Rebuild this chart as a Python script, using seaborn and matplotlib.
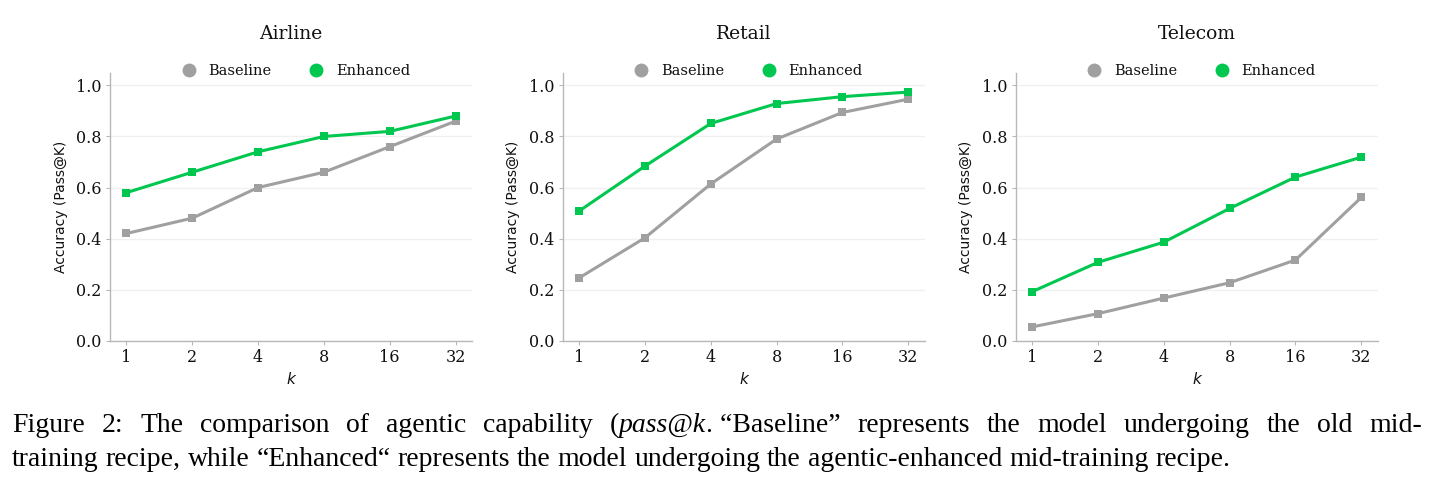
import pandas as pd
import seaborn as sns
import matplotlib.pyplot as plt
from matplotlib.lines import Line2D

# Values
k_labels = ["1", "2", "4", "8", "16", "32"]
domains = ["Airline", "Retail", "Telecom"]

airline_baseline = [0.42, 0.48, 0.60, 0.66, 0.76, 0.86]
airline_enhanced = [0.58, 0.66, 0.74, 0.80, 0.82, 0.88]
retail_baseline = [0.246, 0.403, 0.614, 0.790, 0.894, 0.946]
retail_enhanced = [0.508, 0.684, 0.851, 0.929, 0.956, 0.974]
telecom_baseline = [0.054, 0.106, 0.167, 0.227, 0.316, 0.561]
telecom_enhanced = [0.192, 0.307, 0.386, 0.518, 0.641, 0.719]

series_names = ["Baseline", "Enhanced"]
palette = {"Baseline": "#a0a0a0", "Enhanced": "#00c74f"}

values = {
    "Airline": (airline_baseline, airline_enhanced),
    "Retail": (retail_baseline, retail_enhanced),
    "Telecom": (telecom_baseline, telecom_enhanced),
}

rows = []
for dom in domains:
    for name, vals in zip(series_names, values[dom]):
        for k, v in zip(k_labels, vals):
            rows.append({"domain": dom, "model": name, "k": k, "acc": v})
df = pd.DataFrame(rows)

sns.set_style("white")
plt.rcParams["font.family"] = ["DejaVu Serif"]
plt.rcParams["text.color"] = "#111111"
plt.rcParams["axes.labelcolor"] = "#111111"

fig = plt.figure(figsize=(14.39, 4.9), dpi=100)
lefts = [0.0764, 0.391, 0.7058]

for dom, left in zip(domains, lefts):
    ax = fig.add_axes([left, 0.3047, 0.2516, 0.547])
    sub = df[df["domain"] == dom]
    sns.lineplot(data=sub, x="k", y="acc", hue="model", hue_order=series_names,
                 palette=palette, marker="s", markersize=6, markeredgewidth=0,
                 linewidth=2.2, legend=False, ax=ax, sort=False)
    ax.set_xlim(-0.25, 5.25)
    ax.set_ylim(0, 1.05)
    ax.set_yticks([0.0, 0.2, 0.4, 0.6, 0.8, 1.0])
    ax.set_yticklabels(["0.0", "0.2", "0.4", "0.6", "0.8", "1.0"])
    ax.yaxis.grid(True, color="#f0f0f0", linewidth=1)
    ax.set_axisbelow(True)
    for s in ["top", "right"]:
        ax.spines[s].set_visible(False)
    for s in ["left", "bottom"]:
        ax.spines[s].set_color("#b8b8b8")
        ax.spines[s].set_linewidth(1.0)
    ax.tick_params(axis="both", length=3, width=0.8, color="#b8b8b8",
                   labelcolor="#111111", labelsize=11.5, pad=3,
                   bottom=True, left=True)
    ax.set_xlabel("k", fontsize=11, family="DejaVu Sans", style="italic", labelpad=4)
    ax.set_ylabel("Accuracy (Pass@K)", fontsize=10, family="DejaVu Sans", labelpad=6)
    ax.set_title(dom, fontsize=13.5, pad=24)

    handles = [Line2D([], [], marker="o", linestyle="none", markersize=10,
                      markerfacecolor=palette[n], markeredgewidth=0) for n in series_names]
    ax.legend(handles, series_names, loc="center", bbox_to_anchor=(0.508, 1.005),
              ncol=2, frameon=False, fontsize=10.5, handlelength=1.5,
              handletextpad=0.6, columnspacing=2.3, borderaxespad=0)

# Caption beneath the panels: first line justified, second line flush left
cap_font = ["Liberation Serif"]
cap_size = 20
renderer = fig.canvas.get_renderer()
x0, x1 = 12 / 1439, 1422 / 1439


def text_width(s, style="normal"):
    t = fig.text(0, 0, s, fontsize=cap_size, family=cap_font, style=style)
    w = t.get_window_extent(renderer=renderer).width / fig.bbox.width
    t.remove()
    return w


space_w = text_width("a a") - text_width("aa")


def draw_line(pieces, y, justify):
    # pieces: (text, style, space_after)
    widths = [text_width(p[0], p[1]) for p in pieces]
    gaps = [space_w if p[2] else 0.0 for p in pieces[:-1]]
    if justify:
        n_sp = sum(1 for g in gaps if g > 0)
        extra = (x1 - x0 - sum(widths) - sum(gaps)) / n_sp
        gaps = [g + extra if g > 0 else 0.0 for g in gaps]
    x = x0
    for i, (p, w) in enumerate(zip(pieces, widths)):
        fig.text(x, y, p[0], fontsize=cap_size, family=cap_font, style=p[1],
                 va="baseline", ha="left", color="black")
        if i < len(gaps):
            x += w + gaps[i]


line1 = [(w, "normal", True) for w in "Figure 2: The comparison of agentic capability".split(" ")]
line1 += [("(", "normal", False), ("pass@k", "italic", False),
          (". \u201cBaseline\u201d", "normal", True)]
line1 += [(w, "normal", True) for w in "represents the model undergoing the old mid-".split(" ")]
draw_line(line1, 1 - 432 / 490, True)

line2 = [(w, "normal", True) for w in
         ("training recipe, while \u201cEnhanced\u201c represents the model undergoing "
          "the agentic-enhanced mid-training recipe.").split(" ")]
draw_line(line2, 1 - 466 / 490, False)

fig.savefig("out.png", dpi=100)
